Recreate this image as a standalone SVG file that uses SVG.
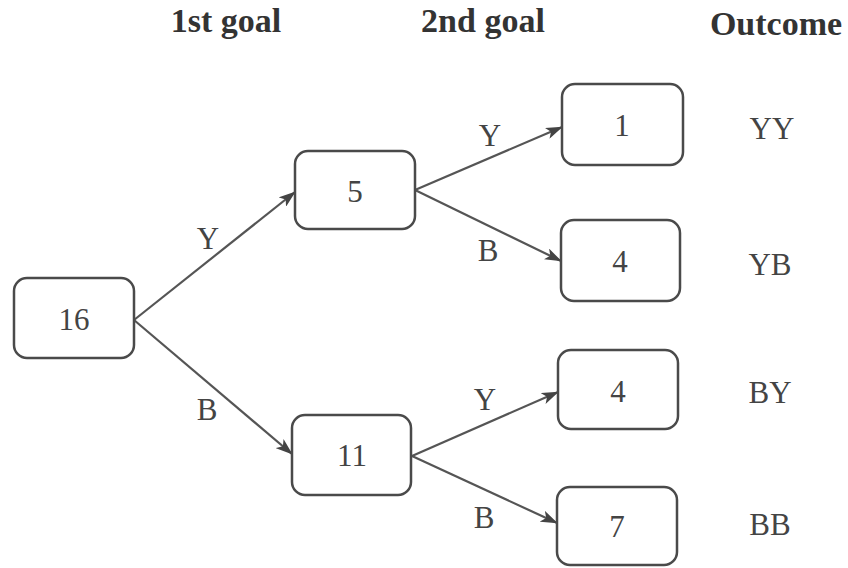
<svg xmlns="http://www.w3.org/2000/svg" width="848" height="568" viewBox="0 0 848 568">
<style>
.box{fill:#fff;stroke:#4a4a4a;stroke-width:2.5}
.lbl{font-family:"Liberation Serif","Times New Roman",serif;font-size:31px;fill:#444;text-anchor:middle}
.hd{font-family:"Liberation Serif","Times New Roman",serif;font-size:34px;font-weight:bold;fill:#333;text-anchor:middle}
.edge{stroke:#555;stroke-width:2.2;fill:none;marker-end:url(#ah)}
</style>
<defs>
<marker id="ah" viewBox="0 0 20 14" refX="19" refY="7" markerWidth="17" markerHeight="12" markerUnits="userSpaceOnUse" orient="auto">
<path d="M0,0 L20,7 L0,14 L5,7 Z" fill="#444"/>
</marker>
</defs>
<rect width="848" height="568" fill="#fff"/>
<g id="headers">
<text class="hd" x="226" y="32">1st goal</text>
<text class="hd" x="483" y="32">2nd goal</text>
<text class="hd" x="776" y="35">Outcome</text>
</g>
<g id="connectors">
<line class="edge" x1="134" y1="320" x2="295" y2="192"/>
<line class="edge" x1="134" y1="320" x2="292" y2="454"/>
<line class="edge" x1="415" y1="190" x2="562" y2="127"/>
<line class="edge" x1="415" y1="190" x2="561" y2="261"/>
<line class="edge" x1="412" y1="456" x2="558" y2="392"/>
<line class="edge" x1="412" y1="456" x2="557" y2="523"/>
<text class="lbl" x="208" y="249">Y</text>
<text class="lbl" x="207" y="420">B</text>
<text class="lbl" x="490" y="146">Y</text>
<text class="lbl" x="488" y="261">B</text>
<text class="lbl" x="485" y="410">Y</text>
<text class="lbl" x="484" y="528">B</text>
</g>
<g id="n16"><rect class="box" x="14" y="278" width="120" height="80" rx="13"/><text class="lbl" x="74" y="330">16</text></g>
<g id="n5"><rect class="box" x="295" y="151" width="120" height="78" rx="13"/><text class="lbl" x="355" y="202">5</text></g>
<g id="n11"><rect class="box" x="292" y="415" width="119" height="80" rx="13"/><text class="lbl" x="352" y="466">11</text></g>
<g id="n1"><rect class="box" x="562" y="84" width="121" height="81" rx="13"/><text class="lbl" x="622" y="136">1</text></g>
<g id="n4a"><rect class="box" x="561" y="220" width="119" height="81" rx="13"/><text class="lbl" x="620" y="272">4</text></g>
<g id="n4b"><rect class="box" x="558" y="350" width="120" height="79" rx="13"/><text class="lbl" x="618" y="402">4</text></g>
<g id="n7"><rect class="box" x="557" y="487" width="120" height="78" rx="13"/><text class="lbl" x="617" y="537">7</text></g>
<g id="outcomes">
<text class="lbl" x="772" y="139">YY</text>
<text class="lbl" x="770" y="275">YB</text>
<text class="lbl" x="770" y="403">BY</text>
<text class="lbl" x="770" y="535">BB</text>
</g>
</svg>
